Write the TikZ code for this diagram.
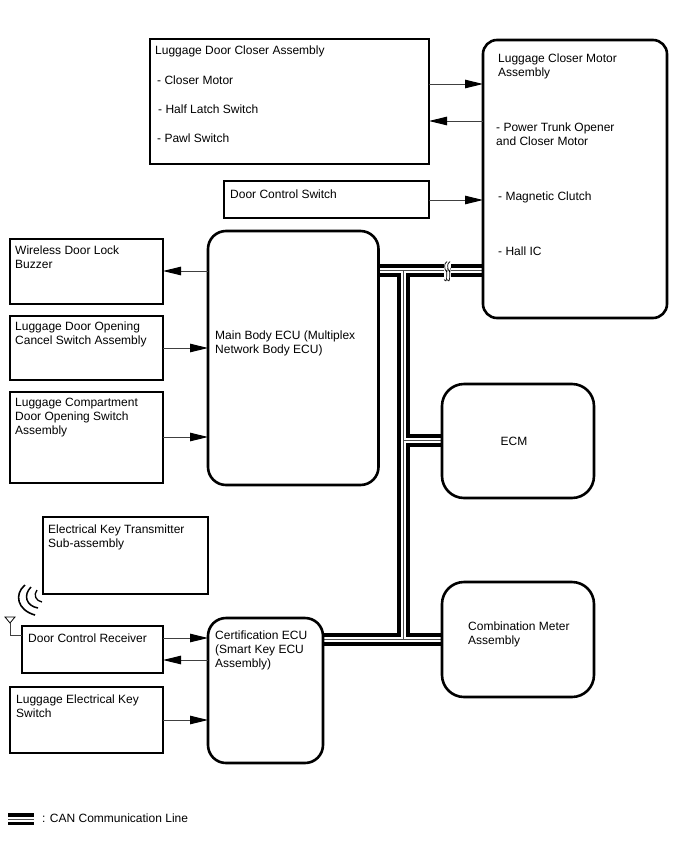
\documentclass[tikz,border=0pt]{standalone}
\usepackage{fontspec}
\setmainfont{Liberation Sans}
\usetikzlibrary{arrows.meta,backgrounds}
\tikzset{
  treebox/.style = {anchor=north west, outer sep=0pt, inner sep=0pt, draw=black, fill=white},
  sqbox/.style = {treebox, line width=2pt},
  rdbox/.style = {treebox, line width=2.6pt, rounded corners=18pt},
  lbl/.style = {anchor=west, align=left, inner sep=0pt, yshift=-1.1pt, font=\fontsize{12}{14}\selectfont},
  sig/.style = {line width=1pt, black!75, -{Triangle[length=18pt,width=8.5pt,black]}},
  canline/.style = {line width=12.6pt, black,
    postaction={draw, white, line width=5pt},
    postaction={draw, black!70, line width=0.8pt}}
}
\begin{document}
\begin{tikzpicture}[x=1pt,y=-1pt]
	\useasboundingbox (0,0) rectangle (688,852);
	% boxes
	\node [sqbox, minimum width=279pt, minimum height=125pt] (closer) at (150,39) {};
	\node [rdbox, rounded corners=14pt, minimum width=184pt, minimum height=278pt] (motor) at (483,40) {};
	\node [sqbox, minimum width=205pt, minimum height=37pt] (doorsw) at (224,181) {};
	\node [sqbox, minimum width=153.5pt, minimum height=65pt] (buzzer) at (9.5,239) {};
	\node [sqbox, minimum width=153.5pt, minimum height=64pt] (cancel) at (9.5,316) {};
	\node [sqbox, minimum width=153.5pt, minimum height=91pt] (compart) at (9.5,392) {};
	\node [rdbox, minimum width=170.5pt, minimum height=254pt] (mainecu) at (208,231) {};
	\node [rdbox, rounded corners=22pt, minimum width=152pt, minimum height=114pt] (ecm) at (442,384) {};
	\node [rdbox, rounded corners=22pt, minimum width=152pt, minimum height=115pt] (meter) at (442,582) {};
	\node [sqbox, minimum width=165pt, minimum height=77pt] (keytx) at (43,517) {};
	\node [sqbox, minimum width=141pt, minimum height=47pt] (receiver) at (22,626) {};
	\node [sqbox, minimum width=153.5pt, minimum height=66pt] (keysw) at (9.5,687) {};
	\node [rdbox, minimum width=115pt, minimum height=145pt] (certecu) at (208,618) {};
	% texts
	\node [lbl] (closertxt) at (155,50) {Luggage Door Closer Assembly};
	\node [lbl] (closertxta) at (157,79) {- Closer Motor};
	\node [lbl] (closertxtb) at (158,108) {- Half Latch Switch};
	\node [lbl] (closertxtc) at (157,137) {- Pawl Switch};
	\node [lbl] (motortxt) at (498,65) {Luggage Closer Motor\\Assembly};
	\node [lbl] (motortxta) at (496,133) {- Power Trunk Opener\\and Closer Motor};
	\node [lbl] (motortxtb) at (498,196) {- Magnetic Clutch};
	\node [lbl] (motortxtc) at (498,250) {- Hall IC};
	\node [lbl] (doorswtxt) at (230,193) {Door Control Switch};
	\node [lbl] (buzzertxt) at (15,256) {Wireless Door Lock\\Buzzer};
	\node [lbl] (canceltxt) at (15,333) {Luggage Door Opening\\Cancel Switch Assembly};
	\node [lbl] (comparttxt) at (15,416) {Luggage Compartment\\Door Opening Switch\\Assembly};
	\node [lbl] (mainecutxt) at (215,342) {Main Body ECU (Multiplex\\Network Body ECU)};
	\node [lbl, anchor=center] (ecmtxt) at (514,440) {ECM};
	\node [lbl] (metertxt) at (468,633) {Combination Meter\\Assembly};
	\node [lbl] (keytxtxt) at (48,536) {Electrical Key Transmitter\\Sub-assembly};
	\node [lbl] (receivertxt) at (28,637) {Door Control Receiver};
	\node [lbl] (keyswtxt) at (16,705) {Luggage Electrical Key\\Switch};
	\node [lbl] (certecutxt) at (215,649) {Certification ECU\\(Smart Key ECU\\Assembly)};
	\node [lbl] (legendtxt) at (42,817) {: CAN Communication Line};
	% signal lines
	\draw [sig] (closer.east |- 0,84) -- (motor.west |- 0,84);
	\draw [sig] (motor.west |- 0,121) -- (closer.east |- 0,121);
	\draw [sig] (doorsw.east |- 0,200) -- (motor.west |- 0,200);
	\draw [sig] (mainecu.west |- 0,271) -- (buzzer.east |- 0,271);
	\draw [sig] (cancel.east |- 0,348) -- (mainecu.west |- 0,348);
	\draw [sig] (compart.east |- 0,437) -- (mainecu.west |- 0,437);
	\draw [sig] (receiver.east |- 0,638) -- (certecu.west |- 0,638);
	\draw [sig] (certecu.west |- 0,660) -- (receiver.east |- 0,660);
	\draw [sig] (keysw.east |- 0,720) -- (certecu.west |- 0,720);
	% can bus
	\coordinate (breakl) at (444,270.5);
	\coordinate (breakr) at (451,270.5);
	\coordinate (upjoin) at (403.5,270.5);
	\coordinate (ecmjoin) at (403.5,440.5);
	\coordinate (lowjoin) at (403.5,639.5);
	\coordinate (legl) at (8,819);
	\coordinate (legr) at (34,819);
	\begin{scope}[on background layer]
		\draw [canline] (mainecu.east |- upjoin) -- (breakl)
			(breakr) -- (motor.west |- breakr)
			(upjoin) -- (lowjoin)
			(ecmjoin) -- (ecm.west |- ecmjoin)
			(certecu.east |- lowjoin) -- (meter.west |- lowjoin)
			(legl) -- (legr);
	\end{scope}
	\draw [line width=0.7pt] (breakl) ++(3,-9) .. controls +(-6,4) and +(1,5) .. ++(0,9) .. controls +(-1,4) and +(4,5) .. ++(-3,9);
	\draw [line width=0.7pt] (breakr) ++(-1,-9) .. controls +(-6,4) and +(1,5) .. ++(0,9) .. controls +(-1,4) and +(4,5) .. ++(-3,9);
	% antenna
	\coordinate (anttip) at (10,623);
	\draw [line width=0.8pt] (5,617) -- (15,617) -- (anttip) -- cycle;
	\draw [line width=1pt, black!75] (anttip) -- (10,635) -- (receiver.west |- 0,635);
	\draw [line width=1.6pt] (25,585) .. controls (14,594) and (17,610) .. (35,615);
	\draw [line width=1.5pt] (31,587) .. controls (23,595) and (26,606) .. (38,608);
	\draw [line width=1.3pt] (37,590) .. controls (33,595) and (36,601) .. (42,602);
\end{tikzpicture}
\end{document}
